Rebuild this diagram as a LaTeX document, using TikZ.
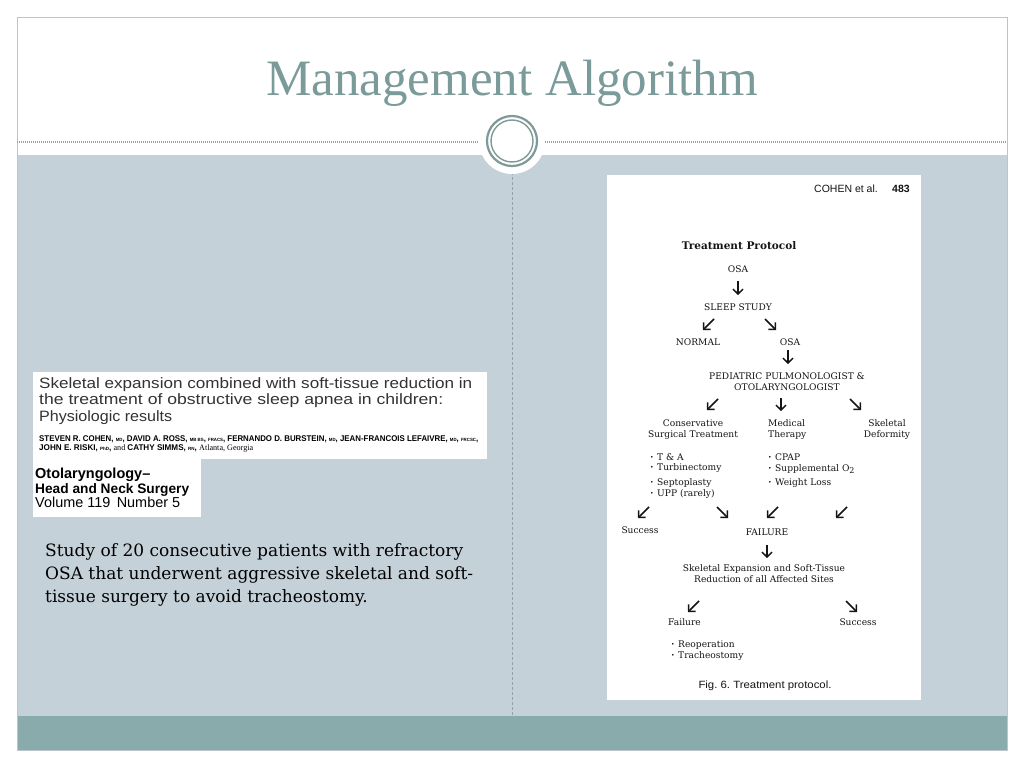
\documentclass[tikz,border=0pt]{standalone}
\usepackage{fontspec}
\setmainfont{Liberation Serif}
\newfontfamily\dvs{DejaVu Serif}
\newfontfamily\lsans{Liberation Sans}
\usetikzlibrary{arrows.meta}
\definecolor{bodygray}{HTML}{C5D1D8}
\definecolor{bandteal}{HTML}{8AABAB}
\definecolor{titleteal}{HTML}{7B9A9A}
\definecolor{ringteal}{HTML}{7F9898}
\definecolor{framegray}{HTML}{BCC6CA}
\definecolor{dotgray}{HTML}{8FA3A8}
\definecolor{ink}{HTML}{141414}
\definecolor{hdrink}{HTML}{333333}
\newcommand{\bul}{\makebox[7pt][l]{\raisebox{0.6pt}{\fontsize{6}{6}\selectfont\textbullet}}}
\newcommand{\smc}[1]{{\fontsize{5.5}{6}\selectfont #1}}
\newcommand{\wfit}[2]{\resizebox{#1}{\height}{#2}}
\frenchspacing
\begin{document}
\begin{tikzpicture}[x=1pt,y=-1pt,
  dg/.style={inner sep=0pt, text=ink, font=\dvs\fontsize{9.1}{11}\selectfont},
  dgb/.style={inner sep=0pt, text=ink, font=\dvs\bfseries\fontsize{10.5}{12}\selectfont},
  sanst/.style={inner sep=0pt, text=ink, font=\lsans\fontsize{10.5}{12}\selectfont},
  hdr/.style={inner sep=0pt, text=hdrink, font=\lsans\fontsize{15}{16}\selectfont, anchor=base west},
  oto/.style={inner sep=0pt, text=black, font=\lsans\fontsize{14}{15}\selectfont, anchor=base west},
  para/.style={inner sep=0pt, text=black, font=\dvs\fontsize{17}{20}\selectfont, anchor=base west},
  arr/.style={line width=1.5pt, draw=ink, -{Straight Barb[length=4.8pt,width=10pt]}}
]
\useasboundingbox (0,0) rectangle (1024,768);
\fill[white] (0,0) rectangle (1024,768);
% slide frame
\fill[white] (17,17) rectangle (1007,155);
\fill[bodygray] (17,155) rectangle (1007,716);
\fill[bandteal] (17,716) rectangle (1007,750);
\draw[framegray, line width=0.8pt] (17,17) rectangle (1007,750);
% dotted header rule
\draw[dotgray, line width=1.2pt, dash pattern=on 1pt off 1pt] (17,142) -- (1007,142);
% vertical dashed divider
\draw[dotgray, line width=1pt, dash pattern=on 3pt off 2pt] (512,172) -- (512,716);
% medallion
\fill[white] (512,141) circle (33);
\draw[ringteal, line width=2.2pt] (512,141) circle (25);
\draw[ringteal, line width=1.4pt] (512,141) circle (21);
% title
\node[inner sep=0pt, anchor=base, text=titleteal, font=\fontsize{51}{56}\selectfont] (title) at (512,95) {Management Algorithm};

% left article header boxes
\fill[white] (33,372) rectangle (487,459);
\fill[white] (33,459) rectangle (201,517);
\node[hdr] (h1) at (39,388) {\wfit{433pt}{Skeletal expansion combined with soft-tissue reduction in}};
\node[hdr] (h2) at (39,404) {\wfit{404pt}{the treatment of obstructive sleep apnea in children:}};
\node[hdr] (h3) at (39,421) {\wfit{133pt}{Physiologic results}};
\node[inner sep=0pt, anchor=base west] (au1) at (39,441) {\resizebox{439pt}{5.8pt}{\lsans\bfseries STEVEN R. COHEN, \smc{MD}, DAVID A. ROSS, \smc{MB BS}, \smc{FRACS}, FERNANDO D. BURSTEIN, \smc{MD}, JEAN-FRANCOIS LEFAIVRE, \smc{MD}, \smc{FRCSC},}};
\node[inner sep=0pt, anchor=base west] (au2) at (39,450) {\resizebox{214pt}{5.8pt}{\lsans\bfseries JOHN E. RISKI, \smc{PhD}, \mdseries\rmfamily and \lsans\bfseries CATHY SIMMS, \smc{RN}, \mdseries\rmfamily Atlanta, Georgia}};
\node[oto] (o1) at (35,478) {\resizebox{!}{10.5pt}{\bfseries Otolaryngology–}};
\node[oto] (o2) at (35,493) {\resizebox{154pt}{!}{\bfseries Head and Neck Surgery}};
\node[oto] (o3) at (35,507) {\resizebox{145pt}{!}{Volume 119\, Number 5}};

% left paragraph
\node[para] (p1) at (45,556) {\wfit{418pt}{Study of 20 consecutive patients with refractory}};
\node[para] (p2) at (45,579) {\wfit{428pt}{OSA that underwent aggressive skeletal and soft-}};
\node[para] (p3) at (45,602) {tissue surgery to avoid tracheostomy.};

% right figure panel
\fill[white] (607,175) rectangle (921,700);
\node[sanst, anchor=east] (cohen) at (878,189) {COHEN et al.};
\node[sanst, font=\lsans\bfseries\fontsize{10.5}{12}\selectfont, anchor=west] (page) at (892,189) {483};
\node[dgb] (tp) at (739,246) {Treatment Protocol};
\node[dg] (osa1) at (738,269) {OSA};
\node[dg] (sleep) at (738,307) {SLEEP STUDY};
\node[dg] (normal) at (698,342) {NORMAL};
\node[dg] (osa2) at (790,342) {OSA};
\node[dg, align=center] (ped) at (787,381.5) {PEDIATRIC PULMONOLOGIST \&\\OTOLARYNGOLOGIST};
\node[dg, align=center] (cons) at (693,429.5) {Conservative\\Surgical Treatment};
\node[dg, align=left, anchor=west] (med) at (768,429.5) {Medical\\Therapy};
\node[dg, align=center] (skel) at (887,429.5) {Skeletal\\Deformity};
\node[dg, anchor=west] (b1) at (650,457) {\bul T \& A};
\node[dg, anchor=west] (b2) at (650,468) {\bul Turbinectomy};
\node[dg, anchor=west] (b3) at (650,483) {\bul Septoplasty};
\node[dg, anchor=west] (b4) at (650,494) {\bul UPP (rarely)};
\node[dg, anchor=west] (m1) at (768,457) {\bul CPAP};
\node[dg, anchor=west] (m2) at (768,469) {\bul Supplemental O\raisebox{-2.5pt}{\fontsize{8}{8}\selectfont 2}};
\node[dg, anchor=west] (m3) at (768,483) {\bul Weight Loss};
\node[dg] (succ1) at (640,530) {Success};
\node[dg] (fail1) at (767,532) {FAILURE};
\node[dg, align=center] (sesr) at (764,573.5) {Skeletal Expansion and Soft-Tissue\\Reduction of all Affected Sites};
\node[dg, anchor=west] (fail2) at (668,622) {Failure};
\node[dg] (succ2) at (858,622) {Success};
\node[dg, anchor=west] (r1) at (671,645) {\bul Reoperation};
\node[dg, anchor=west] (r2) at (671,656) {\bul Tracheostomy};
\node[sanst] (fig) at (765,686) {\wfit{133pt}{Fig. 6. Treatment protocol.}};

% arrow end points
\coordinate (a1s) at (738,281); \coordinate (a1e) at (738,295);
\coordinate (a2s) at (714,319); \coordinate (a2e) at (703,330);
\coordinate (a3s) at (765,319); \coordinate (a3e) at (776,330);
\coordinate (a4s) at (788,350); \coordinate (a4e) at (788,364);
\coordinate (a5s) at (718,399); \coordinate (a5e) at (707,410);
\coordinate (a6s) at (781,398); \coordinate (a6e) at (781,411);
\coordinate (a7s) at (850,399); \coordinate (a7e) at (861,410);
\coordinate (a8s) at (649,507); \coordinate (a8e) at (638,518);
\coordinate (a9s) at (717,507); \coordinate (a9e) at (728,518);
\coordinate (a10s) at (778,507); \coordinate (a10e) at (767,518);
\coordinate (a11s) at (847,507); \coordinate (a11e) at (836,518);
\coordinate (a12s) at (767,545); \coordinate (a12e) at (767,558);
\coordinate (a13s) at (699,601); \coordinate (a13e) at (688,612);
\coordinate (a14s) at (846,601); \coordinate (a14e) at (857,612);
\foreach \i in {1,...,14} {\draw[arr] (a\i s) -- (a\i e);}
\end{tikzpicture}
\end{document}
